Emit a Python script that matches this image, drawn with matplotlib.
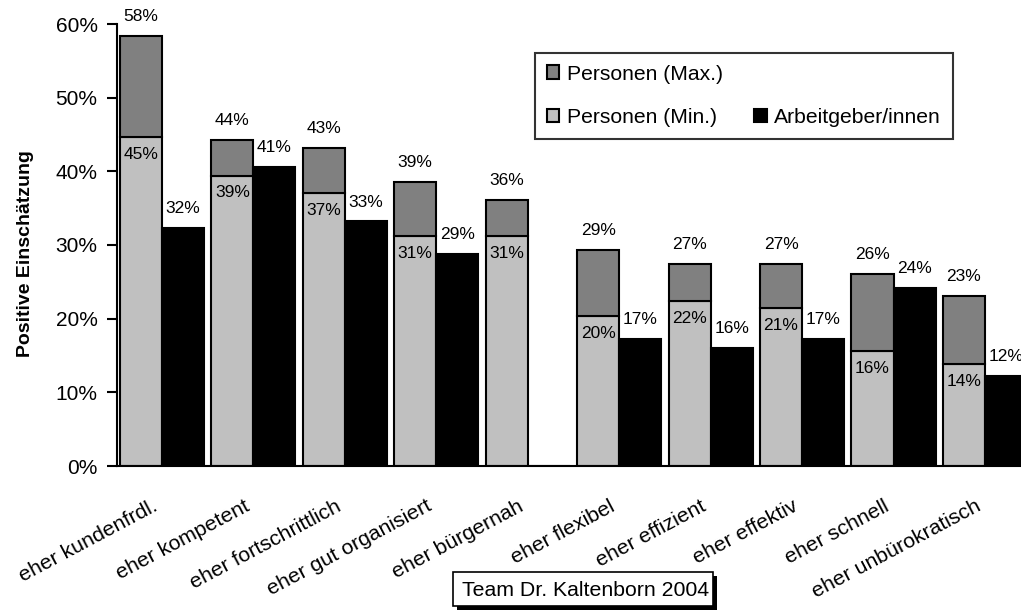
import numpy as np
import matplotlib
matplotlib.use("Agg")
import matplotlib.pyplot as plt
from matplotlib.patches import Rectangle

plt.rcParams['font.family'] = ['Liberation Sans', 'DejaVu Sans']

categories = ["eher kundenfrdl.", "eher kompetent", "eher fortschrittlich",
              "eher gut organisiert", "eher bürgernah", "eher flexibel",
              "eher effizient", "eher effektiv", "eher schnell",
              "eher unbürokratisch"]
personen_max = [58.4, 44.3, 43.2, 38.6, 36.1, 29.3, 27.4, 27.4, 26.1, 23.1]
personen_min = [44.6, 39.4, 37.0, 31.2, 31.2, 20.3, 22.4, 21.4, 15.6, 13.8]
arbeitgeber = [32.3, 40.6, 33.2, 28.8, np.nan, 17.3, 16.0, 17.3, 24.2, 12.2]
yticks = [0, 10, 20, 30, 40, 50, 60]
ytick_labels = ["0%", "10%", "20%", "30%", "40%", "50%", "60%"]
source_text = "Team Dr. Kaltenborn 2004"

W, H = 1021, 610
fig = plt.figure(figsize=(W / 100, H / 100), dpi=100)
ax = fig.add_axes([117 / W, (H - 466) / H, 904 / W, (466 - 24) / H])

x = np.arange(len(categories))
bw = 0.46
c_light = "#C0C0C0"
c_dark = "#808080"

pmin = np.array(personen_min)
pmax = np.array(personen_max)
arb = np.array(arbeitgeber)

ax.bar(x - bw / 2, pmin, bw, color=c_light, edgecolor="black", linewidth=1.5,
       label="Personen (Min.)", zorder=2)
ax.bar(x - bw / 2, pmax - pmin, bw, bottom=pmin, color=c_dark, edgecolor="black",
       linewidth=1.5, label="Personen (Max.)", zorder=2)
ax.bar(x + bw / 2, np.nan_to_num(arb), bw, color="black", edgecolor="black",
       linewidth=1.5, label="Arbeitgeber/innen", zorder=2)

fs_lab = 12.5
for i in range(len(categories)):
    ax.text(x[i] - bw / 2, pmax[i] + 1.6, "%.0f%%" % pmax[i], ha="center",
            va="bottom", fontsize=fs_lab)
    ax.text(x[i] - bw / 2, pmin[i] - 1.3, "%.0f%%" % pmin[i], ha="center",
            va="top", fontsize=fs_lab)
    if not np.isnan(arb[i]):
        ax.text(x[i] + bw / 2, arb[i] + 1.6, "%.0f%%" % arb[i], ha="center",
                va="bottom", fontsize=fs_lab)

ax.set_ylim(0, 60)
ax.set_xlim(-0.492, 9.394)
ax.set_yticks(yticks)
ax.set_yticklabels(ytick_labels, fontsize=15)
ax.set_xticks(x - 0.11)
ax.set_xticklabels(categories, rotation=28, ha="right", rotation_mode="anchor",
                   fontsize=15.3)
ax.tick_params(axis="x", length=0, pad=22)
ax.tick_params(axis="y", direction="out", length=7, width=1.5, pad=7)
for s in ["top", "right"]:
    ax.spines[s].set_visible(False)
for s in ["left", "bottom"]:
    ax.spines[s].set_linewidth(1.5)
ax.set_ylabel("Positive Einschätzung", fontsize=14, fontweight="bold")
ax.yaxis.set_label_coords((34 - 117) / 904, 0.48)

# legend
handles, labels = ax.get_legend_handles_labels()
d = dict(zip(labels, handles))
blank = Rectangle((0, 0), 1, 1, facecolor="none", edgecolor="none")
leg = fig.legend([d["Personen (Max.)"], d["Personen (Min.)"], blank, d["Arbeitgeber/innen"]],
                 ["Personen (Max.)", "Personen (Min.)", "", "Arbeitgeber/innen"],
                 ncol=2, loc="upper left", bbox_to_anchor=(535 / W, 1 - 53 / H),
                 frameon=True, fancybox=False, fontsize=15.2, handlelength=0.6,
                 handleheight=0.6, handletextpad=0.35, labelspacing=1.15,
                 columnspacing=1.5, borderpad=0.55, borderaxespad=0)
leg.get_frame().set_edgecolor("black")
leg.get_frame().set_linewidth(1.5)

# source box with shadow
fig.add_artist(Rectangle((457 / W, 0), (717 - 457) / W, (H - 576) / H,
                         transform=fig.transFigure, facecolor="black",
                         edgecolor="none", zorder=5))
fig.add_artist(Rectangle((453 / W, (H - 606) / H), (713 - 453) / W, (606 - 572) / H,
                         transform=fig.transFigure, facecolor="white",
                         edgecolor="black", linewidth=1.2, zorder=6))
fig.text(462 / W, 1 - 590 / H, source_text, ha="left", va="center",
         fontsize=15.3, zorder=7)

fig.savefig("out.png", dpi=100)
